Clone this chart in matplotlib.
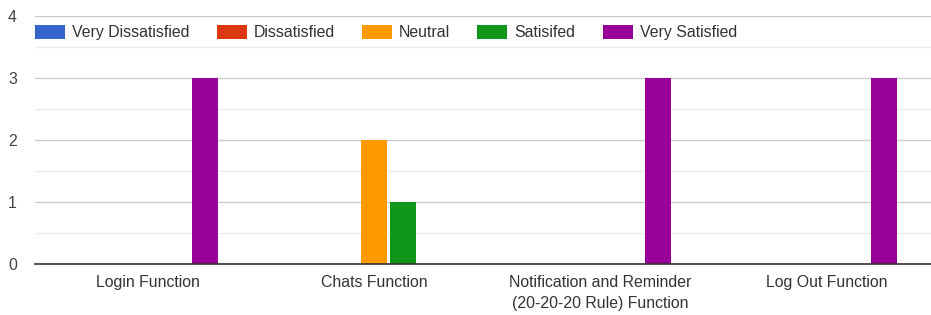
import numpy as np
import matplotlib.pyplot as plt
from matplotlib.ticker import MultipleLocator

plt.rcParams['font.family'] = ['Liberation Sans', 'DejaVu Sans']

categories = ['Login Function', 'Chats Function',
              'Notification and Reminder\n(20-20-20 Rule) Function', 'Log Out Function']
series = ['Very Dissatisfied', 'Dissatisfied', 'Neutral', 'Satisifed', 'Very Satisfied']
very_dissatisfied = [0, 0, 0, 0]
dissatisfied = [0, 0, 0, 0]
neutral = [0, 2, 0, 0]
satisfied = [0, 1, 0, 0]
very_satisfied = [3, 0, 3, 3]
colors = ['#3366cc', '#dc3912', '#ff9900', '#109618', '#990099']

values = [very_dissatisfied, dissatisfied, neutral, satisfied, very_satisfied]

fig = plt.figure(figsize=(9.31, 3.15), dpi=100)
ax = fig.add_axes([35/931, 1-264/315, 1-35/931, (264-16)/315])

x = np.arange(len(categories))
step = 0.126
width = 0.115
for i, (name, vals, col) in enumerate(zip(series, values, colors)):
    ax.bar(x + (i-2)*step, vals, width, color=col, label=name, zorder=3)

ax.set_xlim(-0.5, 3.46)
ax.set_ylim(0, 4)
ax.yaxis.set_major_locator(MultipleLocator(1))
ax.yaxis.set_minor_locator(MultipleLocator(0.5))
ax.grid(axis='y', which='major', color='#cccccc', lw=1, zorder=0)
ax.grid(axis='y', which='minor', color='#ebebeb', lw=1, zorder=0)
for s in ['top', 'right', 'left']:
    ax.spines[s].set_visible(False)
ax.spines['bottom'].set_color('#333333')
ax.spines['bottom'].set_linewidth(1.2)
ax.spines['bottom'].set_zorder(4)

fs = 11.4
ax.set_xticks(x)
ax.set_xticklabels(categories, fontsize=fs, color='#333333', linespacing=1.5)
ax.tick_params(axis='x', length=0, pad=8)
ax.tick_params(axis='y', which='both', length=0, pad=13, labelsize=fs, labelcolor='#444444')

leg = ax.legend(loc='upper left', bbox_to_anchor=(0, 1 - 9/248), ncol=5, frameon=False,
                fontsize=fs, handlelength=1.9, handleheight=0.95, handletextpad=0.45,
                columnspacing=1.7, borderpad=0, borderaxespad=0)
for t in leg.get_texts():
    t.set_color('#333333')

plt.savefig('out.png', dpi=100)
